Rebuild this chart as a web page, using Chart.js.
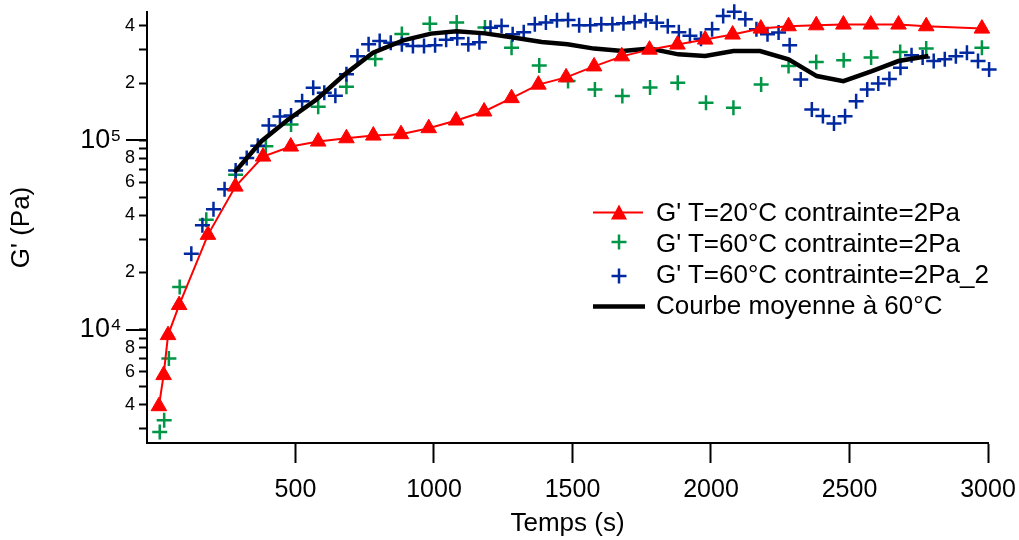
<!DOCTYPE html>
<html>
<head>
<meta charset="utf-8">
<script src="https://cdn.jsdelivr.net/npm/chart.js@4.4.1/dist/chart.umd.min.js"></script>
<style>
html,body{margin:0;padding:0;background:#fff;}
#wrap{position:relative;width:1019px;height:540px;overflow:hidden;}
#c{position:absolute;left:0;top:0;}
#icons{position:absolute;left:0;top:0;pointer-events:none;}
.lt{position:absolute;left:656px;height:31px;line-height:31px;white-space:nowrap;
    font-family:'Liberation Sans',Arial,sans-serif;font-size:26px;color:#000;}
</style>
</head>
<body>
<div id="wrap">
<canvas id="c" width="1019" height="540"></canvas>
<svg id="icons" width="1019" height="540">
  <line x1="593" y1="212.5" x2="643" y2="212.5" stroke="#ff0000" stroke-width="2"/>
  <polygon points="619,204.5 627,219.5 611,219.5" fill="#ff0000"/>
  <line x1="611.5" y1="242" x2="626.5" y2="242" stroke="rgb(0,150,70)" stroke-width="2.5"/>
  <line x1="619" y1="234.5" x2="619" y2="249.5" stroke="rgb(0,150,70)" stroke-width="2.5"/>
  <line x1="611.5" y1="276" x2="626.5" y2="276" stroke="rgb(0,40,160)" stroke-width="2.5"/>
  <line x1="619" y1="268.5" x2="619" y2="283.5" stroke="rgb(0,40,160)" stroke-width="2.5"/>
  <line x1="593" y1="306.5" x2="645" y2="306.5" stroke="#000" stroke-width="4.5"/>
</svg>
<div class="lt" style="top:197px">G' T=20°C contrainte=2Pa</div>
<div class="lt" style="top:228px">G' T=60°C contrainte=2Pa</div>
<div class="lt" style="top:259px">G' T=60°C contrainte=2Pa_2</div>
<div class="lt" style="top:290px">Courbe moyenne à 60°C</div>
</div>
<script>
// ---- Data ----
const timeRed = [7, 24, 40, 80, 184, 283, 383, 483, 582, 684, 781, 881, 981, 1080, 1181, 1280, 1377, 1477, 1578, 1678, 1778, 1879, 1979, 2078, 2180, 2280, 2380, 2478, 2577, 2677, 2777, 2978];
const gRed = [3940, 5750, 9350, 13470, 31600, 56800, 81800, 92400, 98200, 102200, 105600, 107400, 115500, 126800, 141500, 166400, 196100, 214200, 244700, 276500, 300000, 319000, 339000, 360400, 387400, 398500, 403200, 406900, 406900, 406900, 398500, 387400];

const timeGreen = [10, 26, 43, 82, 178, 284, 393, 484, 582, 684, 788, 884, 985, 1082, 1184, 1280, 1380, 1484, 1581, 1680, 1780, 1880, 1982, 2081, 2181, 2280, 2380, 2479, 2578, 2683, 2777, 2978];
const gGreen = [2878, 3321, 7040, 16790, 37970, 65600, 92700, 120800, 150000, 191000, 267600, 362900, 411000, 417000, 392400, 307300, 247800, 204700, 185000, 170600, 189600, 200900, 157300, 147900, 196700, 245600, 258100, 263500, 272300, 291500, 303900, 307300];

const timeBlue = [124, 164, 204, 244, 284, 324, 364, 404, 444, 484, 524, 564, 604, 644, 684, 724, 764, 804, 844, 884, 924, 964, 1004, 1044, 1084, 1124, 1164, 1204, 1244, 1284, 1324, 1364, 1404, 1444, 1484, 1524, 1564, 1604, 1644, 1684, 1724, 1764, 1804, 1844, 1884, 1924, 1964, 2004, 2044, 2084, 2124, 2164, 2204, 2244, 2284, 2324, 2364, 2404, 2444, 2484, 2524, 2564, 2604, 2644, 2684, 2724, 2764, 2804, 2844, 2884, 2924, 2964, 3004];
const gBlue = [25090, 35500, 43100, 55000, 69000, 80300, 93200, 119300, 133100, 134800, 160400, 188800, 177700, 171300, 222200, 276800, 320100, 333200, 326700, 320100, 313500, 313500, 316300, 338000, 344400, 320100, 328200, 391400, 400400, 361600, 370700, 408300, 417000, 428900, 430400, 403400, 403400, 408300, 408300, 413300, 418700, 428900, 415900, 398800, 370700, 355000, 342100, 384400, 451900, 475600, 434300, 384400, 361600, 369000, 316300, 208900, 145000, 134000, 122300, 133600, 160400, 185000, 199000, 210300, 241000, 280000, 272300, 261200, 266600, 276800, 289300, 261200, 236000];

const timeMean = [280, 377, 476, 576, 678, 780, 889, 989, 1082, 1184, 1286, 1389, 1482, 1578, 1681, 1780, 1882, 1979, 2081, 2177, 2280, 2382, 2478, 2581, 2677, 2785];
const gMean = [67550, 98600, 129100, 163700, 222200, 289300, 335900, 364500, 375100, 365600, 347400, 329100, 320100, 303800, 295100, 303800, 283400, 277600, 295100, 295100, 266600, 217600, 204700, 231200, 261200, 277600];

const xTickValues = [500, 1000, 1500, 2000, 2500, 3000];
const yTickValues = [3000, 4000, 5000, 6000, 7000, 8000, 9000, 10000, 20000, 30000, 40000, 50000, 60000, 70000, 80000, 90000, 100000, 200000, 300000, 400000];
const yTickLabels = ['', '4', '', '6', '', '8', '', '10\u2074\u2002', '2', '', '4', '', '6', '', '8', '', '10\u2075\u2002', '2', '', '4'];
const yMajorValues = [10000, 100000];

const pts = (xs, ys) => xs.map((x, i) => ({x: x, y: ys[i]}));
const FONT = "'Liberation Sans', Arial, sans-serif";
const GREEN = 'rgb(0,150,70)';
const BLUE = 'rgb(0,40,160)';

const majorTickPlugin = {
  id: 'majorTicks',
  afterDraw(chart) {
    const ys = chart.scales.y;
    const ctx = chart.ctx;
    ctx.save();
    ctx.strokeStyle = '#000';
    ctx.lineWidth = 2;
    yMajorValues.forEach(v => {
      const py = Math.round(ys.getPixelForValue(v));
      ctx.beginPath();
      ctx.moveTo(ys.right - 21, py);
      ctx.lineTo(ys.right, py);
      ctx.stroke();
    });
    ctx.restore();
  }
};

new Chart(document.getElementById('c'), {
  type: 'scatter',
  data: {
    datasets: [
      {
        label: "G' T=20°C contrainte=2Pa",
        data: pts(timeRed, gRed),
        showLine: true,
        borderColor: '#ff0000',
        borderWidth: 2,
        pointStyle: 'triangle',
        pointRadius: 9,
        pointBackgroundColor: '#ff0000',
        pointBorderColor: '#ff0000',
        pointBorderWidth: 1,
        tension: 0,
        clip: false,
        order: 0
      },
      {
        label: "G' T=60°C contrainte=2Pa",
        data: pts(timeGreen, gGreen),
        showLine: false,
        pointStyle: 'cross',
        pointRadius: 7.5,
        pointBorderColor: GREEN,
        pointBackgroundColor: GREEN,
        pointBorderWidth: 2.5,
        clip: false,
        order: 3
      },
      {
        label: "G' T=60°C contrainte=2Pa_2",
        data: pts(timeBlue, gBlue),
        showLine: false,
        pointStyle: 'cross',
        pointRadius: 7.5,
        pointBorderColor: BLUE,
        pointBackgroundColor: BLUE,
        pointBorderWidth: 2.5,
        clip: false,
        order: 2
      },
      {
        label: 'Courbe moyenne à 60°C',
        data: pts(timeMean, gMean),
        showLine: true,
        borderColor: '#000',
        borderWidth: 4.5,
        pointRadius: 0,
        tension: 0,
        clip: false,
        order: 1
      }
    ]
  },
  options: {
    responsive: false,
    animation: false,
    devicePixelRatio: 1,
    layout: {padding: {left: 0, right: 31, top: 12, bottom: 0}},
    plugins: {legend: {display: false}, tooltip: {enabled: false}},
    scales: {
      x: {
        type: 'linear',
        min: -36,
        max: 3000,
        afterBuildTicks: s => { s.ticks = xTickValues.map(v => ({value: v})); },
        afterFit: s => { s.height = 97; s.paddingLeft = 0; s.paddingRight = 0; },
        grid: {drawOnChartArea: false, drawTicks: true, tickLength: 20, tickWidth: 2, tickColor: '#000'},
        border: {display: true, color: '#000', width: 2},
        ticks: {autoSkip: false, maxRotation: 0, padding: 12, color: '#000',
                font: {family: FONT, size: 25}, callback: v => String(v)},
        title: {display: true, text: 'Temps (s)', color: '#000',
                font: {family: FONT, size: 26}, padding: {top: 0, bottom: 1}}
      },
      y: {
        type: 'logarithmic',
        min: 2520,
        max: 474000,
        afterBuildTicks: s => { s.ticks = yTickValues.map(v => ({value: v})); },
        afterFit: s => { s.width = 147; s.paddingTop = 0; s.paddingBottom = 0; },
        grid: {drawOnChartArea: false, drawTicks: true, tickLength: 8, tickWidth: 2, tickColor: '#000'},
        border: {display: true, color: '#000', width: 2},
        ticks: {
          autoSkip: false, padding: 4, color: '#000',
          font: ctx => (ctx.tick && yMajorValues.includes(ctx.tick.value)) ? {family: FONT, size: 27} : {family: FONT, size: 18},
          callback: (v, i) => yTickLabels[yTickValues.indexOf(v)] ?? ''
        },
        title: {display: true, text: "G' (Pa)", color: '#000',
                font: {family: FONT, size: 26}, padding: {top: 6, bottom: 0}}
      }
    }
  },
  plugins: [majorTickPlugin]
});
</script>
</body>
</html>
